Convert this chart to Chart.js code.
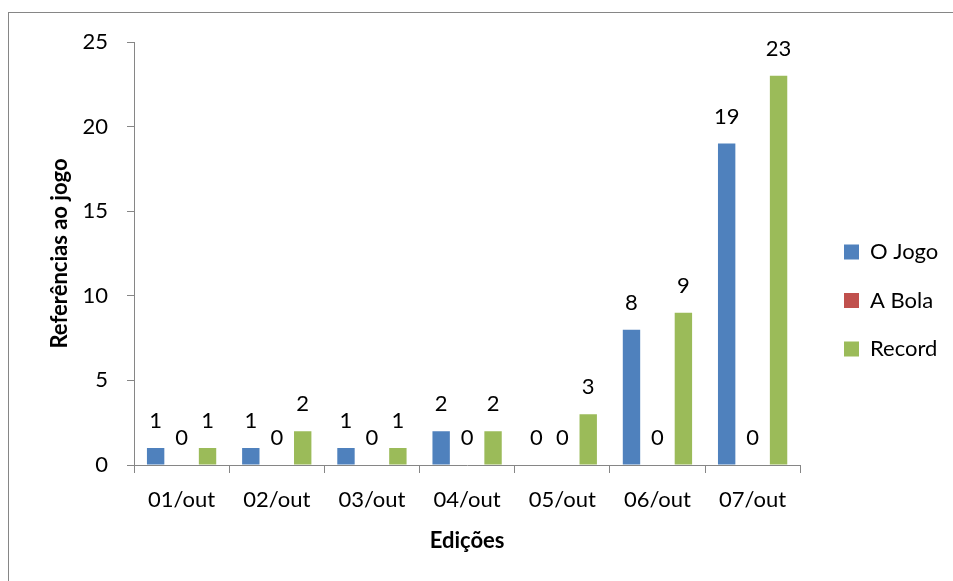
<!DOCTYPE html>
<html>
<head>
<meta charset="utf-8">
<script src="https://cdn.jsdelivr.net/npm/chart.js@4"></script>
<style>
html,body{margin:0;padding:0;background:#fff;}
#wrap{width:953px;height:581px;position:relative;}
</style>
</head>
<body>
<div id="wrap"><canvas id="c" width="953" height="581"></canvas></div>
<script>
const categories = ["01/out","02/out","03/out","04/out","05/out","06/out","07/out"];
const seriesNames = ["O Jogo","A Bola","Record"];
const oJogo = [1,1,1,2,0,8,19];
const aBola = [0,0,0,0,0,0,0];
const record = [1,2,1,2,3,9,23];
const yTicks = [0,5,10,15,20,25];
const colors = ["#4F81BD","#C0504D","#9BBB59"];

const FONT = "Lato";
const axisGray = "#868686";

const frame = {
  id: 'frame',
  beforeDraw(chart){
    const ctx = chart.ctx;
    ctx.save();
    ctx.fillStyle = '#fff';
    ctx.fillRect(0,0,chart.width,chart.height);
    ctx.strokeStyle = axisGray;
    ctx.lineWidth = 1;
    ctx.strokeRect(8.5,12.5,1000,1000);
    ctx.restore();
  }
};

const legendShift = {
  id: 'legendShift',
  afterLayout(chart){
    const lg = chart.legend;
    if(!lg) return;
    const dx = 844 - (lg.left + lg.options.labels.padding);
    lg.left += dx; lg.right += dx;
  }
};

const valueLabels = {
  id: 'valueLabels',
  afterDatasetsDraw(chart){
    const ctx = chart.ctx;
    ctx.save();
    ctx.font = "22px " + FONT;
    ctx.fillStyle = "#000";
    ctx.textAlign = "center";
    ctx.textBaseline = "middle";
    chart.data.datasets.forEach((ds, i) => {
      const meta = chart.getDatasetMeta(i);
      meta.data.forEach((bar, j) => {
        ctx.fillText(String(ds.data[j]), bar.x, bar.y - 27);
      });
    });
    ctx.restore();
  }
};

new Chart(document.getElementById('c'), {
  type: 'bar',
  data: {
    labels: categories,
    datasets: [
      {label: seriesNames[0], data: oJogo, backgroundColor: colors[0]},
      {label: seriesNames[1], data: aBola, backgroundColor: colors[1]},
      {label: seriesNames[2], data: record, backgroundColor: colors[2]}
    ]
  },
  options: {
    responsive: false,
    animation: false,
    datasets: {bar: {categoryPercentage: 0.818, barPercentage: 0.67}},
    layout: {padding: {left: 0, top: 42, right: 22, bottom: 22}},
    plugins: {
      legend: {
        position: 'right',
        align: 'center',
        labels: {
          boxWidth: 15, boxHeight: 15, padding: 26.5,
          color: '#000',
          font: {family: FONT, size: 22}
        }
      },
      tooltip: {enabled: false}
    },
    scales: {
      x: {
        grid: {offset: true, drawOnChartArea: false, drawTicks: true, tickLength: 8, color: axisGray},
        border: {color: axisGray, width: 1},
        ticks: {color: '#000', padding: 14, font: {family: FONT, size: 22}, maxRotation: 0},
        title: {display: true, text: 'Edições', color: '#000', font: {family: FONT, size: 22, weight: 'bold'}, padding: {top: 0, bottom: 5}},
        afterFit(scale){ scale.height = 94; }
      },
      y: {
        min: 0, max: 25,
        afterBuildTicks(scale){ scale.ticks = yTicks.map(v => ({value: v})); },
        grid: {drawOnChartArea: false, drawTicks: true, tickLength: 7, color: axisGray},
        border: {color: axisGray, width: 1},
        ticks: {color: '#000', padding: 19, font: {family: FONT, size: 22}},
        title: {display: true, text: 'Referências ao jogo', color: '#000', font: {family: FONT, size: 22, weight: 'bold'}, padding: {top: 47, bottom: 0}},
        afterFit(scale){ scale.width = 134; }
      }
    }
  },
  plugins: [frame, legendShift, valueLabels]
});
</script>
</body>
</html>
